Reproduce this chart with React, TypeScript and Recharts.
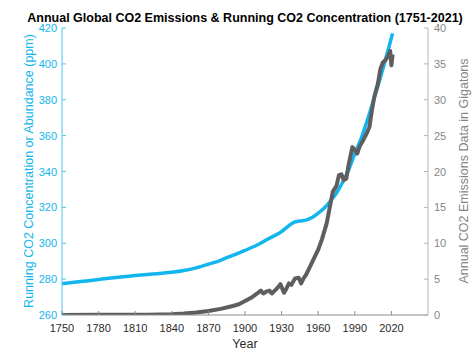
import React from 'react';
import { ComposedChart, Line, XAxis, YAxis } from 'recharts';

const concYears = [1750, 1760, 1770, 1780, 1790, 1800, 1810, 1820, 1830, 1840, 1850, 1860, 1870, 1880, 1890, 1900, 1910, 1920, 1930, 1935, 1940, 1945, 1950, 1955, 1960, 1965, 1970, 1975, 1980, 1985, 1990, 1995, 2000, 2005, 2010, 2015, 2021];
const concValues = [277.5, 278.2, 279, 279.8, 280.6, 281.3, 282, 282.6, 283.1, 283.8, 284.8, 286.3, 288.3, 290.5, 293.3, 296, 299, 302.8, 306.5, 309.3, 311.7, 312.4, 312.9, 314.3, 316.8, 319.6, 323.5, 328, 334, 341, 350, 358, 368, 379, 390, 402, 417];

const emisYears = [1750, 1780, 1800, 1820, 1840, 1850, 1860, 1870, 1880, 1890, 1895, 1900, 1905, 1910, 1913, 1915, 1918, 1920, 1922, 1925, 1927, 1929, 1932, 1934, 1936, 1938, 1941, 1944, 1946, 1948, 1950, 1954, 1958, 1960, 1963, 1967, 1970, 1972, 1975, 1977, 1979, 1981, 1983, 1985, 1988, 1990, 1992, 1994, 1997, 2000, 2002, 2004, 2006, 2009, 2011, 2013, 2015, 2017, 2019, 2020, 2021];
const emisValues = [0.01, 0.02, 0.03, 0.05, 0.1, 0.2, 0.35, 0.55, 0.85, 1.25, 1.5, 1.95, 2.4, 3.0, 3.4, 3.0, 3.3, 3.4, 3.0, 3.5, 3.85, 4.3, 3.1, 3.7, 4.4, 4.2, 5.1, 5.2, 4.4, 5.1, 5.6, 7.0, 8.4, 9.1, 10.5, 12.8, 15.5, 17.2, 18.0, 19.5, 19.6, 18.8, 19.0, 21.0, 23.4, 23.0, 22.5, 23.5, 24.4, 25.4, 26.2, 28.5, 30.4, 32.3, 34.3, 35.2, 35.5, 36.0, 36.8, 34.8, 36.3];

const xTicks = [1750, 1780, 1810, 1840, 1870, 1900, 1930, 1960, 1990, 2020];
const leftTicks = [260, 280, 300, 320, 340, 360, 380, 400, 420];
const rightTicks = [0, 5, 10, 15, 20, 25, 30, 35, 40];

const title = 'Annual Global CO2 Emissions & Running CO2 Concentration (1751-2021)';
const xLabel = 'Year';
const leftLabel = 'Running CO2 Concentration or Abundance (ppm)';
const rightLabel = 'Annual CO2 Emissions Data in Gigatons';

type Row = { year: number; conc?: number; emis?: number };
const rowMap = new Map<number, Row>();
concYears.forEach((y, i) => {
  const r = rowMap.get(y) || { year: y };
  r.conc = concValues[i];
  rowMap.set(y, r);
});
emisYears.forEach((y, i) => {
  const r = rowMap.get(y) || { year: y };
  r.emis = emisValues[i];
  rowMap.set(y, r);
});
const data = Array.from(rowMap.values()).sort((a, b) => a.year - b.year);

const FONT = '"Liberation Sans", Arial, Helvetica, sans-serif';
const CYAN = '#12b6ee';
const GRAY = '#5e5e5e';
const AXIS_CYAN = '#4cc3ee';
const FRAME = '#8c8c8c';
const RIGHT_AXIS = '#b5b5b5';
const RIGHT_TEXT = '#858585';

const BottomTick = (props: any) => {
  const { x, y, payload } = props;
  return (
    <g>
      <line x1={x} x2={x} y1={y} y2={y - 4} stroke={FRAME} strokeWidth={1} />
      <text x={x} y={y + 17} textAnchor="middle" fontSize={11} fontFamily={FONT} fill="#2b2b2b">
        {payload.value}
      </text>
    </g>
  );
};

const TopTick = (props: any) => {
  const { x, y } = props;
  return <line x1={x} x2={x} y1={y} y2={y + 4} stroke={FRAME} strokeWidth={1} />;
};

const LeftTick = (props: any) => {
  const { x, y, payload } = props;
  return (
    <g>
      <line x1={x} x2={x + 4} y1={y} y2={y} stroke={AXIS_CYAN} strokeWidth={1} />
      <text x={x - 5} y={y + 4} textAnchor="end" fontSize={11} fontFamily={FONT} fill={CYAN}>
        {payload.value}
      </text>
    </g>
  );
};

const RightTick = (props: any) => {
  const { x, y, payload } = props;
  return (
    <g>
      <line x1={x} x2={x - 4} y1={y} y2={y} stroke={RIGHT_AXIS} strokeWidth={1} />
      <text x={x + 6} y={y + 4} textAnchor="start" fontSize={11} fontFamily={FONT} fill={RIGHT_TEXT}>
        {payload.value}
      </text>
    </g>
  );
};

export default function App() {
  return (
    <div style={{ position: 'absolute', left: 0, top: 0, width: 474, height: 355, background: '#fff' }}>
      <ComposedChart width={474} height={355} data={data} margin={{ top: 28, right: 0, bottom: 0, left: 0 }}>
        <XAxis
          xAxisId="bottom"
          dataKey="year"
          type="number"
          domain={[1750, 2050]}
          allowDataOverflow
          ticks={xTicks}
          orientation="bottom"
          height={40}
          tickSize={0}
          tickMargin={0}
          tickLine={false}
          axisLine={{ stroke: FRAME, strokeWidth: 1 }}
          tick={<BottomTick />}
          interval={0}
        />
        <XAxis
          xAxisId="top"
          dataKey="year"
          type="number"
          domain={[1750, 2050]}
          allowDataOverflow
          ticks={xTicks}
          orientation="top"
          height={0}
          tickSize={0}
          tickMargin={0}
          tickLine={false}
          axisLine={{ stroke: FRAME, strokeWidth: 1 }}
          tick={<TopTick />}
          interval={0}
        />
        <YAxis
          yAxisId="left"
          orientation="left"
          type="number"
          domain={[260, 420]}
          allowDataOverflow
          ticks={leftTicks}
          width={62}
          tickSize={0}
          tickMargin={0}
          tickLine={false}
          axisLine={{ stroke: AXIS_CYAN, strokeWidth: 1 }}
          tick={<LeftTick />}
          interval={0}
        />
        <YAxis
          yAxisId="right"
          orientation="right"
          type="number"
          domain={[0, 40]}
          allowDataOverflow
          ticks={rightTicks}
          width={46}
          tickSize={0}
          tickMargin={0}
          tickLine={false}
          axisLine={{ stroke: RIGHT_AXIS, strokeWidth: 1 }}
          tick={<RightTick />}
          interval={0}
        />
        <Line
          xAxisId="bottom"
          yAxisId="left"
          type="monotone"
          dataKey="conc"
          stroke={CYAN}
          strokeWidth={3.5}
          dot={false}
          connectNulls
          isAnimationActive={false}
        />
        <Line
          xAxisId="bottom"
          yAxisId="right"
          type="linear"
          dataKey="emis"
          stroke={GRAY}
          strokeWidth={4}
          strokeLinejoin="round"
          dot={false}
          connectNulls
          isAnimationActive={false}
        />
      </ComposedChart>
      <svg width={474} height={355} style={{ position: 'absolute', left: 0, top: 0, pointerEvents: 'none' }}>
        <text x={245} y={22} textAnchor="middle" fontSize={12.5} fontWeight="bold" fontFamily={FONT} fill="#000">
          {title}
        </text>
        <text x={245} y={348} textAnchor="middle" fontSize={12.5} fontFamily={FONT} fill="#2b2b2b">
          {xLabel}
        </text>
        <text
          x={0}
          y={0}
          transform="translate(33,171) rotate(-90)"
          textAnchor="middle"
          fontSize={12.5}
          fontFamily={FONT}
          fill={CYAN}
        >
          {leftLabel}
        </text>
        <text
          x={0}
          y={0}
          transform="translate(468,171) rotate(-90)"
          textAnchor="middle"
          fontSize={12.5}
          fontFamily={FONT}
          fill={RIGHT_TEXT}
        >
          {rightLabel}
        </text>
      </svg>
    </div>
  );
}
